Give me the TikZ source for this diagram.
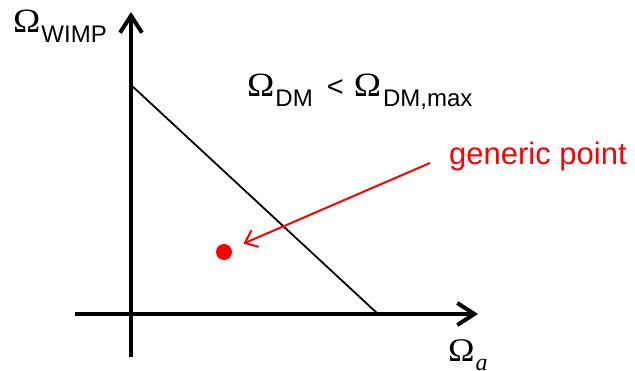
\documentclass[tikz,border=0pt]{standalone}
\usepackage{fontspec}
\setmainfont{Liberation Sans}
\newfontfamily\omegafont{Liberation Serif}
\usetikzlibrary{arrows.meta}
\definecolor{ptred}{RGB}{255,0,0}
\tikzset{
  axis/.style={line width=4pt, -{Straight Barb[length=17pt,width=22pt,line width=4pt]}},
  boundary/.style={line width=1.8pt},
  redarrow/.style={ptred, line width=2pt, -{Straight Barb[length=11pt,width=18pt,line width=2pt]}},
  lbl/.style={inner sep=0pt, anchor=base west},
  reddot/.style={circle, fill=ptred, minimum size=16pt, inner sep=0pt}
}
\newcommand{\Om}{{\omegafont\fontsize{34}{34}\selectfont\scalebox{1.08}[1]{Ω}}}
\newcommand{\Sb}[1]{\raisebox{-10pt}{\fontsize{24}{24}\selectfont #1}}
\begin{document}
\begin{tikzpicture}[x=1pt,y=-1pt]
\useasboundingbox (0,0) rectangle (635,371);
\coordinate (ybot) at (131,357);
\coordinate (ytop) at (131,12);
\coordinate (xleft) at (75,314);
\coordinate (xright) at (478,314);
\coordinate (bA) at (131,85);
\coordinate (bB) at (378,314);
\coordinate (arrstart) at (430,163);
\draw[axis] (ybot) -- (ytop);
\draw[axis] (xleft) -- (xright);
\draw[boundary] (bA) -- (bB);
\node[reddot] (pt) at (224,252) {};
\node[lbl, text=ptred, font=\fontsize{31}{31}\selectfont] (gp) at (449,165) {generic point};
\draw[redarrow, shorten >=13pt] (arrstart) -- (pt);
\node[lbl] (wimp) at (13,33) {\Om\hspace{1pt}\Sb{WIMP}};
\node[lbl] (cond) at (247,97) {\Om\hspace{1pt}\Sb{DM}\hspace{14pt}{\fontsize{29}{29}\selectfont <}\hspace{10pt}\Om\hspace{2pt}\Sb{DM,max}};
\node[lbl] (oa) at (448,362) {{\omegafont\fontsize{33}{33}\selectfont\scalebox{1.08}[1]{Ω}\hspace{1pt}\raisebox{-9pt}{\fontsize{24}{24}\selectfont\itshape a}}};
\end{tikzpicture}
\end{document}
